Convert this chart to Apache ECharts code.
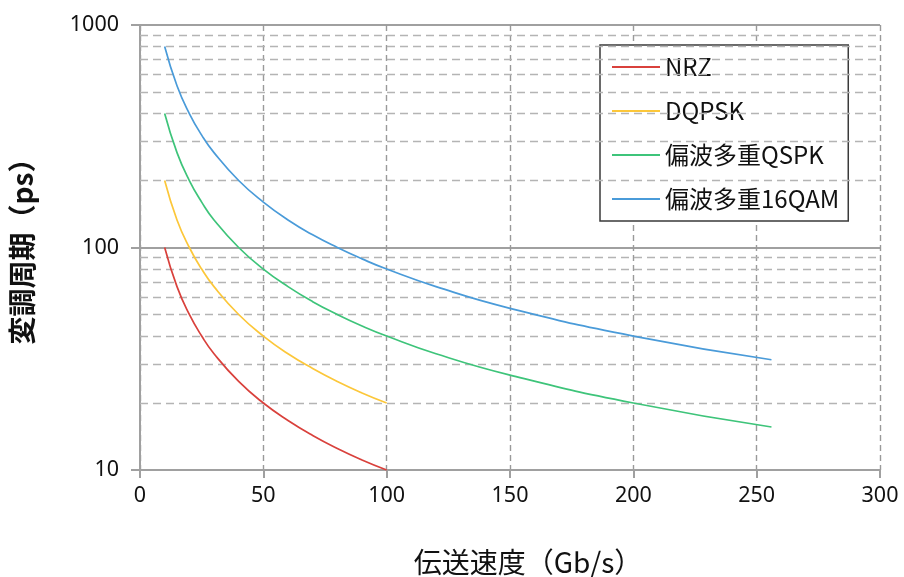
<!DOCTYPE html>
<html>
<head>
<meta charset="utf-8">
<script src="https://cdn.jsdelivr.net/npm/echarts@6/dist/echarts.min.js"></script>
<style>
  html, body { margin: 0; padding: 0; background: #fff; }
  #chart { width: 904px; height: 577px; }
</style>
</head>
<body>
<div id="chart"></div>
<script>
// Transmission rate (Gb/s) sample points
const rateShort = [10, 15, 20, 25, 30, 40, 50, 60, 70, 80, 90, 100];
const rateLong = [10, 15, 20, 25, 30, 40, 50, 60, 70, 80, 90, 100, 120, 150, 200, 256];

// Modulation period (ps) per scheme
const nrzValues = [100, 66.7, 50, 40, 33.3, 25, 20, 16.7, 14.3, 12.5, 11.1, 10];
const dqpskValues = [200, 133, 100, 80, 66.7, 50, 40, 33.3, 28.6, 25, 22.2, 20];
const dpQpskValues = [400, 267, 200, 160, 133, 100, 80, 66.7, 57.1, 50, 44.4, 40, 33.3, 26.7, 20, 15.6];
const dp16qamValues = [800, 533, 400, 320, 267, 200, 160, 133, 114, 100, 88.9, 80, 66.7, 53.3, 40, 31.3];

const seriesNames = ['NRZ', 'DQPSK', '偏波多重QSPK', '偏波多重16QAM'];
const seriesColors = ['#d9413c', '#fcc73a', '#3ec47a', '#4a9bd9'];

// Minor log gridlines between decades
const minorTicks = [20, 30, 40, 50, 60, 70, 80, 90, 200, 300, 400, 500, 600, 700, 800, 900];

const xTicks = { min: 0, max: 300, interval: 50 };

const CJK = '"Noto Sans CJK JP", "Noto Sans", sans-serif';
const NUM = '"Noto Sans", "Open Sans", sans-serif';

function pairs(xs, ys) { return xs.map((x, i) => [x, ys[i]]); }

const seriesData = [
  pairs(rateShort, nrzValues),
  pairs(rateShort, dqpskValues),
  pairs(rateLong, dpQpskValues),
  pairs(rateLong, dp16qamValues)
];

const series = seriesData.map((d, i) => ({
  name: seriesNames[i],
  type: 'line',
  data: d,
  smooth: true,
  showSymbol: false,
  symbol: 'none',
  z: 5,
  lineStyle: { color: seriesColors[i], width: 1.7 },
  itemStyle: { color: seriesColors[i] }
}));

// Dashed minor gridlines drawn on the y scale
series.push({
  name: 'minor-grid',
  type: 'line',
  data: [],
  silent: true,
  z: 1,
  markLine: {
    silent: true,
    symbol: 'none',
    animation: false,
    label: { show: false },
    lineStyle: { color: '#b4b4b4', type: [8, 5], width: 1.4 },
    data: minorTicks.map(v => ({ yAxis: v }))
  }
});

const chart = echarts.init(document.getElementById('chart'));
chart.setOption({
  animation: false,
  backgroundColor: '#fff',
  grid: { left: 140, right: 24, top: 25, bottom: 107, outerBoundsMode: 'none', containLabel: false },
  legend: {
    data: seriesNames,
    orient: 'vertical',
    left: 600,
    top: 45,
    padding: [10, 9, 10, 12],
    itemGap: 20,
    itemWidth: 48,
    itemHeight: 2,
    icon: 'rect',
    backgroundColor: '#fff',
    borderColor: '#3a3a3a',
    borderWidth: 1.5,
    borderRadius: 0,
    textStyle: { fontFamily: CJK, fontSize: 24, color: '#111', lineHeight: 24 }
  },
  xAxis: {
    type: 'value',
    min: xTicks.min,
    max: xTicks.max,
    interval: xTicks.interval,
    name: '伝送速度（Gb/s）',
    nameLocation: 'middle',
    nameGap: 78,
    nameTextStyle: { fontFamily: CJK, fontSize: 28, color: '#111', padding: [0, 0, 0, 36] },
    axisLine: { show: true, lineStyle: { color: '#a0a0a0', width: 2 } },
    axisTick: { show: true, inside: false, length: 8, lineStyle: { color: '#a0a0a0', width: 2 } },
    axisLabel: { fontFamily: NUM, fontSize: 21.5, color: '#111', margin: 15 },
    splitLine: { show: true, lineStyle: { color: '#9a9a9a', type: [6, 4], width: 1.4 } }
  },
  yAxis: {
    type: 'log',
    logBase: 10,
    min: 10,
    max: 1000,
    name: '変調周期（ps）',
    nameLocation: 'middle',
    nameRotate: 90,
    nameGap: 104,
    nameTextStyle: { fontFamily: CJK, fontSize: 28, fontWeight: 'bold', color: '#111', padding: [0, 0, 0, 6] },
    axisLine: { show: true, lineStyle: { color: '#a0a0a0', width: 2 } },
    axisTick: { show: true, inside: false, length: 9, lineStyle: { color: '#a0a0a0', width: 2 } },
    axisLabel: { fontFamily: NUM, fontSize: 21.5, color: '#111', margin: 21, formatter: v => String(v) },
    splitLine: { show: true, lineStyle: { color: '#a0a0a0', type: 'solid', width: 2 } }
  },
  series: series
});
</script>
</body>
</html>
